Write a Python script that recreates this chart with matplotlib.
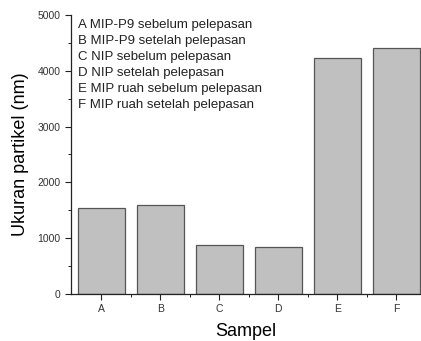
import matplotlib.pyplot as plt
from matplotlib.ticker import MultipleLocator

plt.rcParams['font.family'] = ['Liberation Sans', 'DejaVu Sans']

samples = ['A', 'B', 'C', 'D', 'E', 'F']
sizes = [1540, 1600, 870, 850, 4230, 4410]
labels = ['A MIP-P9 sebelum pelepasan',
          'B MIP-P9 setelah pelepasan',
          'C NIP sebelum pelepasan',
          'D NIP setelah pelepasan',
          'E MIP ruah sebelum pelepasan',
          'F MIP ruah setelah pelepasan']

fig = plt.figure(figsize=(4.21, 3.41), dpi=100)
ax = fig.add_axes([0.169, 0.138, 0.831, 0.818])

x = list(range(len(samples)))
ax.bar(x, sizes, width=0.8, color='#c0c0c0', edgecolor='#555555', linewidth=0.9)

ax.set_xlim(-0.51, 5.42)
ax.set_ylim(0, 5000)
ax.set_xticks(x)
ax.set_xticklabels(samples)
ax.set_xticks([i + 0.5 for i in x[:-1]], minor=True)
ax.yaxis.set_major_locator(MultipleLocator(1000))
ax.yaxis.set_minor_locator(MultipleLocator(500))

ax.spines['top'].set_visible(False)
ax.spines['right'].set_visible(False)
for s in ['left', 'bottom']:
    ax.spines[s].set_linewidth(0.9)
    ax.spines[s].set_color('#222222')

ax.tick_params(which='major', direction='out', length=4, width=0.8, labelsize=7.5,
               labelcolor='#333333', color='#222222')
ax.tick_params(which='minor', direction='out', length=2, width=0.7, color='#222222')

ax.set_xlabel('Sampel', fontsize=13, labelpad=6)
ax.set_ylabel('Ukuran partikel (nm)', fontsize=13, labelpad=6)

ax.text(0.02, 0.985, '\n'.join(labels), transform=ax.transAxes, ha='left', va='top',
        fontsize=9.5, linespacing=1.45, color='#222222')

fig.savefig('out.png', dpi=100)
